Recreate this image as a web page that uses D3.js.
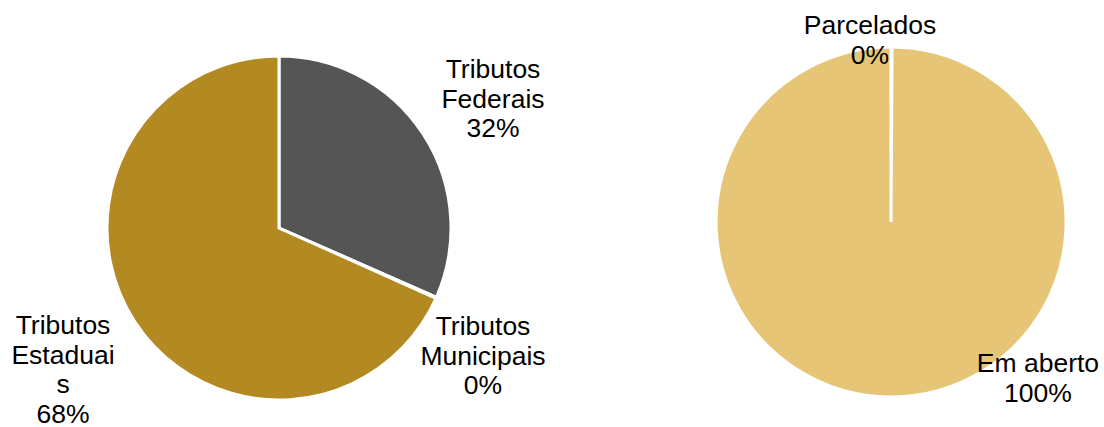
<!DOCTYPE html>
<html>
<head>
<meta charset="utf-8">
<script src="https://cdn.jsdelivr.net/npm/d3@7"></script>
<style>
  body { margin: 0; background: #fff; }
  text { font-family: "Liberation Sans", Arial, sans-serif; font-size: 26.5px; fill: #000; }
</style>
</head>
<body>
<div class="chart"></div>
<script>
// left pie
const leftNames = ["Tributos Federais", "Tributos Municipais", "Tributos Estaduais"];
const leftValues = [31.6, 0.1, 68.3];
const leftPct = ["32%", "0%", "68%"];
const leftLabelLines = [["Tributos", "Federais", "32%"], ["Tributos", "Municipais", "0%"], ["Tributos", "Estaduai", "s", "68%"]];
// right pie
const rightNames = ["Parcelados", "Em aberto"];
const rightValues = [0.1, 99.9];
const rightLabelLines = [["Parcelados", "0%"], ["Em aberto", "100%"]];

const svg_width = 1104, svg_height = 427;
const svg = d3.select(".chart").append("svg")
  .attr("width", svg_width).attr("height", svg_height);

const pie = d3.pie().sort(null).value(d => d);

function drawPie(values, colors, cx, cy, r, labels, labelPos) {
  const g = svg.append("g").attr("transform", `translate(${cx},${cy})`);
  const arc = d3.arc().innerRadius(0).outerRadius(r);
  g.selectAll("path").data(pie(values)).join("path")
    .attr("d", arc)
    .attr("fill", (d, i) => colors[i])
    .attr("stroke", "#fff")
    .attr("stroke-width", 3)
    .attr("stroke-linejoin", "miter");
  labels.forEach((lines, i) => {
    const t = g.append("text")
      .attr("text-anchor", "middle")
      .attr("x", labelPos[i][0])
      .attr("y", labelPos[i][1]);
    lines.forEach((l, j) => {
      t.append("tspan").attr("x", labelPos[i][0]).attr("dy", j === 0 ? 0 : 29.5).text(l);
    });
  });
}

drawPie(leftValues, ["#555555", "#555555", "#B38A22"], 279, 228, 172,
  leftLabelLines, [[214, -150], [204, 107], [-216, 106]]);

drawPie(rightValues, ["#E6C676", "#E6C676"], 891, 222, 175,
  rightLabelLines, [[-21, -188], [147, 150]]);
</script>
</body>
</html>
